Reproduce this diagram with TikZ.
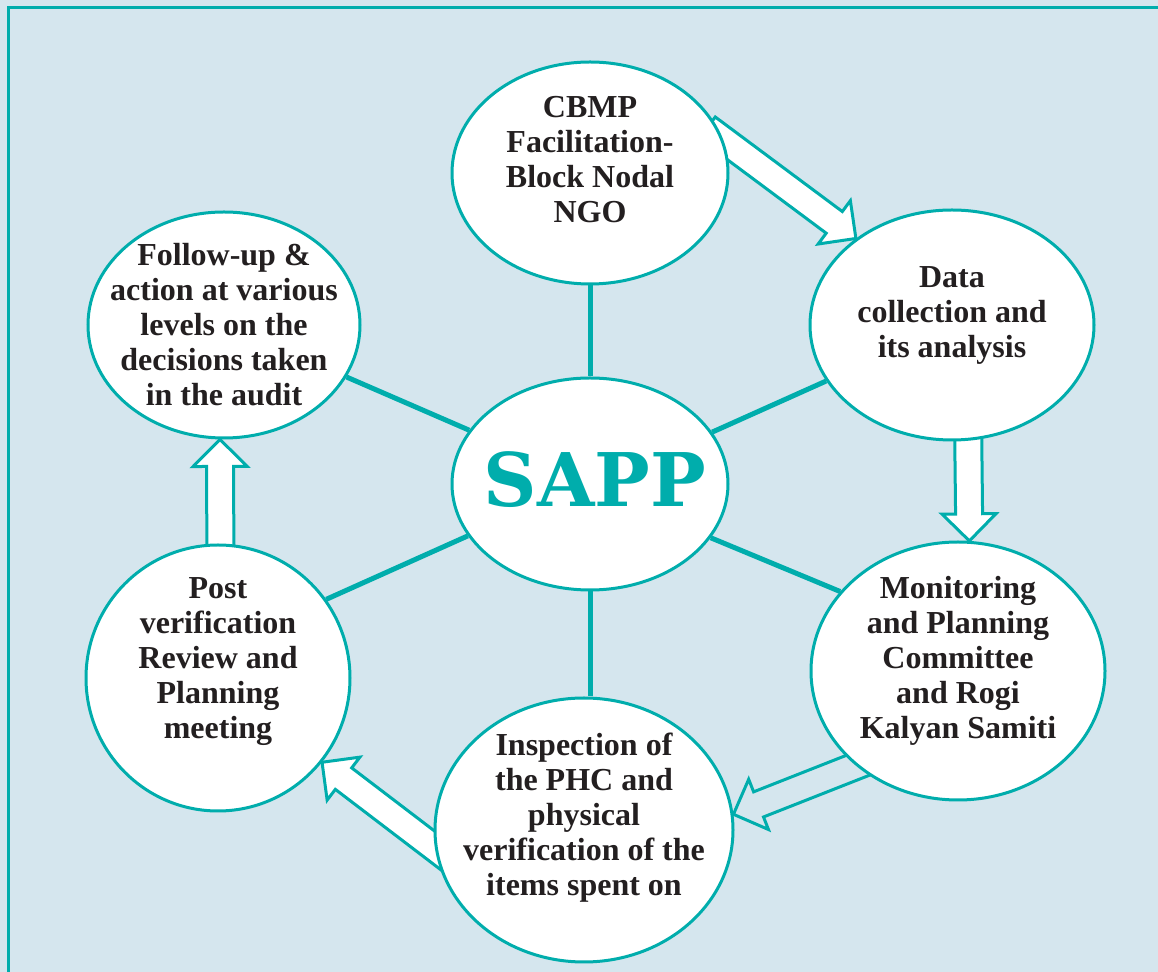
\documentclass[tikz,border=0pt]{standalone}
\usepackage{fontspec}
\setmainfont{Liberation Serif}
\newfontfamily\sappfont{DejaVu Serif}
\usetikzlibrary{shapes.geometric, calc, positioning, backgrounds}

\definecolor{sappteal}{RGB}{0,173,172}
\definecolor{paper}{RGB}{213,230,238}
\definecolor{ink}{RGB}{35,31,32}

\tikzset{
  bubble/.style={ellipse, draw=sappteal, line width=1.5pt, fill=white, inner sep=0pt},
  bubbletext/.style={align=center, text=ink, inner sep=0pt,
    font=\fontsize{16}{17.5}\selectfont\bfseries},
  spoke/.style={draw=sappteal, line width=2.5pt},
  hollow/.style={draw=sappteal, line width=1.5pt, line join=miter, fill=white},
}

% block arrow from #2 to #3, shaft 27px, head 54px wide;
% the tail is pushed back into the source bubble so it hides there
\newcommand{\hollowarrow}[3][]{%
  \coordinate (bt) at ($(#2)!-10pt!(#3)$);
  \coordinate (hb) at ($(#3)!13.5pt!(#2)$);
  \draw[hollow, #1] ($(bt)!6.75pt!90:(#3)$) -- ($(hb)!6.75pt!90:(#3)$)
    -- ($(hb)!13.5pt!90:(#3)$) -- (#3) -- ($(hb)!13.5pt!-90:(#3)$)
    -- ($(hb)!6.75pt!-90:(#3)$) -- ($(bt)!6.75pt!-90:(#3)$) -- cycle;}

\begin{document}
\begin{tikzpicture}[x=0.5pt, y=-0.5pt]
	\useasboundingbox (0,0) rectangle (1158,972);

	% the hub and the six steps round it
	\node[bubble, minimum width=138pt, minimum height=106pt] (sapp) at (590,484) {};
	\node[bubble, minimum width=138pt, minimum height=111pt] (cbmp) at (590,173) {};
	\node[bubble, minimum width=142pt, minimum height=115pt] (data) at (952,325) {};
	\node[bubble, minimum width=147pt, minimum height=129pt] (mon) at (958,671) {};
	\node[bubble, minimum width=149pt, minimum height=132pt] (insp) at (584,830) {};
	\node[bubble, minimum width=132pt, minimum height=133pt] (post) at (218,678) {};
	\node[bubble, minimum width=136pt, minimum height=113pt] (follow) at (224,325) {};

	\node[text=sappteal, font=\sappfont\bfseries\fontsize{37}{40}\selectfont] (sapptext) at (595,480) {SAPP};
	\node[bubbletext] (cbmptext) at ([yshift=6.5pt]cbmp.center) {CBMP\\Facilitation-\\Block Nodal\\NGO};
	\node[bubbletext] (datatext) at ([yshift=5pt]data.center) {Data\\collection and\\its analysis};
	\node[bubbletext] (montext) at ([yshift=5pt]mon.center) {Monitoring\\and Planning\\Committee\\and Rogi\\Kalyan Samiti};
	\node[bubbletext] (insptext) at ([yshift=6pt]insp.center) {Inspection of\\the PHC and\\physical\\verification of the\\items spent on};
	\node[bubbletext] (posttext) at ([yshift=8pt]post.center) {Post\\verification\\Review and\\Planning\\meeting};
	\node[bubbletext] (followtext) at (follow.center) {Follow-up \&\\action at various\\levels on the\\decisions taken\\in the audit};

	% spokes
	\draw[spoke] (sapp.north) -- (cbmp.south);
	\draw[spoke] (sapp.south) -- (sapp.south |- insp.north);
	\draw[spoke] (sapp.23.5) -- (data.204);
	\draw[spoke] (sapp.336.5) -- (mon.146);
	\draw[spoke] (sapp.203.5) -- (post.36);
	\draw[spoke] (sapp.156.5) -- (follow.337);

	\begin{pgfonlayer}{background}
		\fill[paper] (0,0) rectangle (1158,972);
		\draw[sappteal, line width=1.5pt] (8,972) -- (8,8) -- (1158,8);
		% the cycle
		\hollowarrow{cbmp.14}{data.138}
		\hollowarrow{data.278}{mon.85.5}
		\hollowarrow[fill=none]{mon.223}{insp.6}
		\hollowarrow{insp.187}{post.321}
		\hollowarrow{post.89}{follow.268}
	\end{pgfonlayer}
\end{tikzpicture}
\end{document}
